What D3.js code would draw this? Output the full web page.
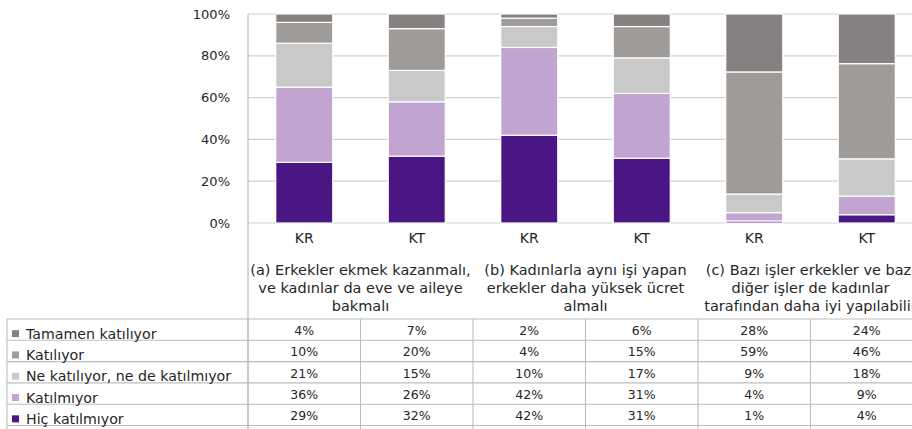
<!DOCTYPE html>
<html><head><meta charset="utf-8">
<script src="https://cdn.jsdelivr.net/npm/d3@7"></script>
<style>body{margin:0;background:#fff}svg{display:block}text{font-family:"DejaVu Sans",sans-serif;fill:#262626}</style>
</head><body><div id="chart"></div>
<script>
const categories = ["KR","KT","KR","KT","KR","KT"];
const groupLabels = [
  ["(a) Erkekler ekmek kazanmalı,","ve kadınlar da eve ve aileye","bakmalı"],
  ["(b) Kadınlarla aynı işi yapan","erkekler daha yüksek ücret","almalı"],
  ["(c) Bazı işler erkekler ve bazı","diğer işler de kadınlar","tarafından daha iyi yapılabilir"]
];
const seriesNames = ["Tamamen katılıyor","Katılıyor","Ne katılıyor, ne de katılmıyor","Katılmıyor","Hiç katılmıyor"];
const tamamen   = [4,7,2,6,28,24];
const katiliyor = [10,20,4,15,59,46];
const ne        = [21,15,10,17,9,18];
const katilmiyor= [36,26,42,31,4,9];
const hic       = [29,32,42,31,1,4];
const yTicks = [0,20,40,60,80,100];
const colors = ["#858180","#9f9b99","#c9c9c9","#c1a4d0","#4a1683"];

(function(){
const W=912,H=429;
const mLeft=248, mTop=14, mBottom=223, mRight=923;
const svg=d3.select("#chart").append("svg").attr("width",W).attr("height",H);

const seriesVals=[tamamen,katiliyor,ne,katilmiyor,hic];
const rows=categories.map((c,i)=>{const o={i};seriesNames.forEach((s,k)=>o[s]=seriesVals[k][i]);return o;});
const stackKeys=seriesNames.slice().reverse();
const stacked=d3.stack().keys(stackKeys).offset(d3.stackOffsetExpand)(rows);

const x=d3.scaleBand().domain(d3.range(categories.length)).range([mLeft,mRight]).paddingInner(0.493).paddingOuter(0.2465);
const y=d3.scaleLinear().domain([0,1]).range([mBottom,mTop]);
const step=x.step();
const color=d3.scaleOrdinal().domain(seriesNames).range(colors);

svg.append("g").selectAll("line").data(yTicks).join("line")
  .attr("x1",mLeft).attr("x2",W).attr("y1",d=>y(d/100)).attr("y2",d=>y(d/100))
  .attr("stroke","#cfcfcf").attr("stroke-width",1.2);
svg.append("g").selectAll("text").data(yTicks).join("text")
  .attr("x",230).attr("y",d=>y(d/100)).attr("dy","0.35em").attr("text-anchor","end")
  .style("font-size","13px").text(d=>d+"%");

svg.append("g").selectAll("g").data(stacked).join("g").attr("fill",d=>color(d.key))
  .selectAll("rect").data(d=>d).join("rect")
  .attr("x",d=>x(d.data.i)).attr("width",x.bandwidth())
  .attr("y",d=>y(d[1])).attr("height",d=>y(d[0])-y(d[1]))
  .attr("stroke","#fff").attr("stroke-width",1.2);

svg.append("line").attr("x1",mLeft).attr("x2",mLeft).attr("y1",mTop).attr("y2",H)
  .attr("stroke","#bdbdbd").attr("stroke-width",1.2);

svg.append("g").selectAll("text").data(categories).join("text")
  .attr("x",(d,i)=>x(i)+x.bandwidth()/2).attr("y",238).attr("dy","0.35em")
  .attr("text-anchor","middle").style("font-size","14px").text(d=>d);

groupLabels.forEach((lines,g)=>{
  const cx=mLeft+step*(2*g+1);
  svg.append("g").selectAll("text").data(lines).join("text")
    .attr("x",cx).attr("y",(d,k)=>270+k*18).attr("dy","0.35em")
    .attr("text-anchor","middle").style("font-size","14.5px").text(d=>d);
});

const tableTop=319, rowH=21.3;
const tg=svg.append("g");
for(let r=0;r<=seriesNames.length;r++){
  const yy=tableTop+r*rowH;
  tg.append("line").attr("x1",7).attr("x2",W).attr("y1",yy).attr("y2",yy)
    .attr("stroke","#bdbdbd").attr("stroke-width",1.1);
}
tg.append("line").attr("x1",7).attr("x2",7).attr("y1",tableTop).attr("y2",H).attr("stroke","#bdbdbd").attr("stroke-width",1.1);
d3.range(categories.length+1).forEach(i=>{
  const xx=mLeft+i*step;
  tg.append("line").attr("x1",xx).attr("x2",xx).attr("y1",tableTop).attr("y2",H)
    .attr("stroke","#bdbdbd").attr("stroke-width",1.1);
});
seriesNames.forEach((s,r)=>{
  const cy=tableTop+r*rowH+rowH/2;
  tg.append("rect").attr("x",12).attr("y",cy+4-3.5).attr("width",7).attr("height",7).attr("fill",color(s));
  tg.append("text").attr("x",26).attr("y",cy+4).attr("dy","0.35em").style("font-size","14.2px").text(s);
  seriesVals[r].forEach((v,i)=>{
    tg.append("text").attr("x",x(i)+x.bandwidth()/2).attr("y",cy+1).attr("dy","0.35em")
      .attr("text-anchor","middle").style("font-size","12.5px").text(v+"%");
  });
});
})();
</script></body></html>
